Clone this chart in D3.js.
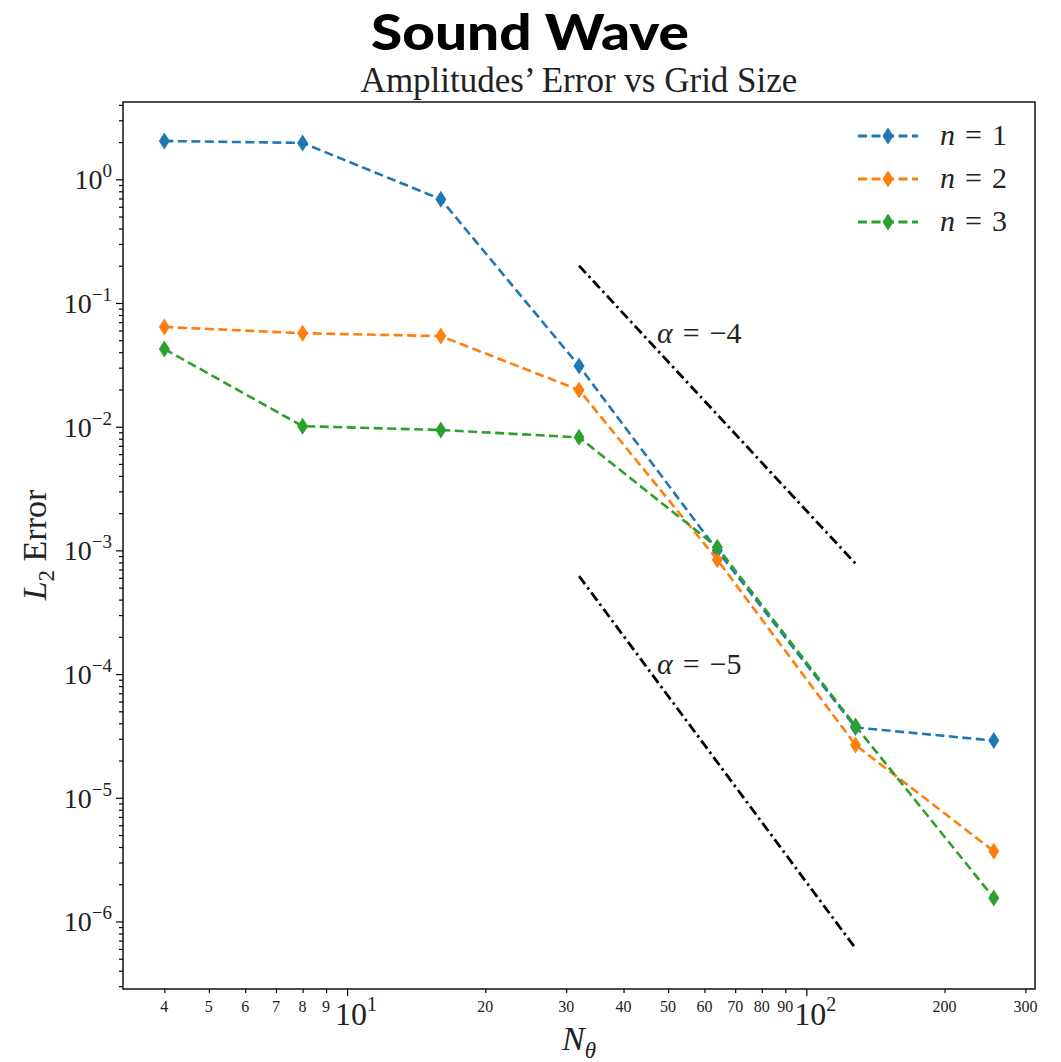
<!DOCTYPE html>
<html><head><meta charset="utf-8">
<script src="https://cdn.jsdelivr.net/npm/d3@7"></script>
<style>body{margin:0;background:#fff}</style>
</head><body>
<svg id="chart" width="1061" height="1062"></svg>
<script>
const gridSizes = [4, 8, 16, 32, 64, 128, 256];
const seriesNames = ["n = 1", "n = 2", "n = 3"];
const errN1 = [2.04, 1.97, 0.69, 0.031, 1.0e-3, 3.7e-5, 2.9e-5];
const errN2 = [0.064, 0.057, 0.054, 0.0198, 8.4e-4, 2.67e-5, 3.7e-6];
const errN3 = [0.0425, 0.0101, 0.0094, 0.0082, 1.06e-3, 3.8e-5, 1.55e-6];
const seriesColors = ["#1f77b4", "#ff7f0e", "#2ca02c"];
const refX = [32, 128];
const refAlpha4 = [0.2, 0.2 / 256];
const refAlpha5 = [6.2e-4, 6.2e-4 / 1024];
const refLabels = ["α = −4", "α = −5"];
const yTickExps = [0, -1, -2, -3, -4, -5, -6];
const xMajor = [10, 100];
const xMinor = [4,5,6,7,8,9,20,30,40,50,60,70,80,90,200,300];

const svg = d3.select("#chart");
const L = 123, R = 1035, T = 102, B = 989;
const x = d3.scaleLog().domain([Math.pow(10,0.512), Math.pow(10,2.498)]).range([L, R]);
const y = d3.scaleLog().domain([Math.pow(10,-6.546), Math.pow(10,0.625)]).range([B, T]);
const serif = "'Liberation Serif', 'DejaVu Serif', serif";

// titles
svg.append("text").attr("x", 530).attr("y", 50).attr("text-anchor","middle")
  .style("font-family","Lato, 'Open Sans', sans-serif").style("font-weight","900").style("font-size","50px")
  .attr("textLength", 318).attr("lengthAdjust", "spacingAndGlyphs")
  .text("Sound Wave");
svg.append("text").attr("x", (L+R)/2).attr("y", 92).attr("text-anchor","middle")
  .style("font-family", serif).style("font-size","35px").attr("fill","#222")
  .text("Amplitudes’ Error vs Grid Size");

// y minor ticks
const yMinorVals = [];
for (let e = -7; e <= 0; e++) for (let m = 2; m <= 9; m++) {
  const v = m * Math.pow(10, e);
  if (v >= y.domain()[0] && v <= y.domain()[1]) yMinorVals.push(v);
}
const yAxisMinor = d3.axisLeft(y).tickValues(yMinorVals).tickSize(4).tickFormat("");
const yAxisMajor = d3.axisLeft(y).tickValues(yTickExps.map(e => Math.pow(10,e))).tickSize(7).tickFormat("");
svg.append("g").attr("transform",`translate(${L},0)`).call(yAxisMinor).call(g=>g.select(".domain").remove()).selectAll("line").attr("stroke","#000").attr("stroke-width",1.2);
svg.append("g").attr("transform",`translate(${L},0)`).call(yAxisMajor).call(g=>g.select(".domain").remove()).selectAll("line").attr("stroke","#000").attr("stroke-width",1.2);

const xAxisMinor = d3.axisBottom(x).tickValues(xMinor).tickSize(4).tickFormat("");
const xAxisMajor = d3.axisBottom(x).tickValues(xMajor).tickSize(7).tickFormat("");
svg.append("g").attr("transform",`translate(0,${B})`).call(xAxisMinor).call(g=>g.select(".domain").remove()).selectAll("line").attr("stroke","#000").attr("stroke-width",1.2);
svg.append("g").attr("transform",`translate(0,${B})`).call(xAxisMajor).call(g=>g.select(".domain").remove()).selectAll("line").attr("stroke","#000").attr("stroke-width",1.2);

// y tick labels
yTickExps.forEach(e => {
  const t = svg.append("text").attr("x", 112).attr("y", y(Math.pow(10,e)) + 10).attr("text-anchor","end")
    .style("font-family", serif).style("font-size","28px").attr("fill","#222");
  t.append("tspan").text("10");
  t.append("tspan").attr("dy", -12).style("font-size","19px").text(e === 0 ? "0" : "−" + (-e));
});
// x major labels
xMajor.forEach(v => {
  const t = svg.append("text").attr("x", x(v) + 30).attr("y", B + 36).attr("text-anchor","end")
    .style("font-family", serif).style("font-size","32px").attr("fill","#222");
  t.append("tspan").text("10");
  t.append("tspan").attr("dy", -14).style("font-size","20px").text(v === 10 ? "1" : "2");
});
// x minor labels
xMinor.forEach(v => {
  svg.append("text").attr("x", x(v)).attr("y", B + 23).attr("text-anchor","middle")
    .style("font-family", serif).style("font-size","16px").attr("fill","#222").text(v);
});

// axis labels
const yl = svg.append("text").attr("transform","translate(46,545) rotate(-90)").attr("text-anchor","middle")
  .style("font-family", serif).style("font-size","34px").attr("fill","#222");
yl.append("tspan").style("font-style","italic").text("L");
yl.append("tspan").attr("dy", 8).style("font-size","23px").text("2");
yl.append("tspan").attr("dy", -8).text(" Error");
const xl = svg.append("text").attr("x", (L+R)/2).attr("y", 1050).attr("text-anchor","middle")
  .style("font-family", serif).style("font-size","34px").attr("fill","#222");
xl.append("tspan").style("font-style","italic").text("N");
xl.append("tspan").attr("dy", 8).style("font-size","23px").style("font-style","italic").text("θ");

// reference lines
const line = d3.line().x(d => x(d[0])).y(d => y(d[1]));
[refAlpha4, refAlpha5].forEach((vals, i) => {
  svg.append("path").datum(refX.map((v,j)=>[v, vals[j]])).attr("d", line)
    .attr("fill","none").attr("stroke","#000").attr("stroke-width",2.8).attr("stroke-dasharray","10,4,2.5,4");
});
[[343, refLabels[0]], [674, refLabels[1]]].forEach(([ly, lab]) => {
  const p = lab.split(" = ");
  svg.append("text").attr("x", 657).attr("y", ly).style("font-family", serif).style("font-size","30px").attr("fill","#222")
    .html(`<tspan font-style="italic">${p[0]}</tspan><tspan dx="10">=</tspan><tspan dx="10">${p[1]}</tspan>`);
});

// data series
const allSeries = [errN1, errN2, errN3];
const diamond = (cx, cy) => `M${cx},${cy-8.5}L${cx+5.5},${cy}L${cx},${cy+8.5}L${cx-5.5},${cy}Z`;
allSeries.forEach((vals, i) => {
  const pts = gridSizes.map((g,j)=>[g, vals[j]]);
  svg.append("path").datum(pts).attr("d", line).attr("fill","none")
    .attr("stroke", seriesColors[i]).attr("stroke-width",2.6).attr("stroke-dasharray","9,4.5");
  svg.append("g").selectAll("path").data(pts).join("path")
    .attr("d", d => diamond(x(d[0]), y(d[1]))).attr("fill", seriesColors[i]);
});

// frame
svg.append("rect").attr("x", L).attr("y", T).attr("width", R-L).attr("height", B-T)
  .attr("fill","none").attr("stroke","#000").attr("stroke-width",1.4);

// legend
seriesNames.forEach((name, i) => {
  const ly = 136 + i * 43;
  svg.append("line").attr("x1", 858).attr("x2", 918).attr("y1", ly).attr("y2", ly)
    .attr("stroke", seriesColors[i]).attr("stroke-width", 3).attr("stroke-dasharray","9,4.5");
  svg.append("path").attr("d", diamond(888, ly)).attr("fill", seriesColors[i]);
  const parts = name.split(" = ");
  svg.append("text").attr("x", 940).attr("y", ly + 9).style("font-family", serif).style("font-size","30px").attr("fill","#222")
    .html(`<tspan font-style="italic">${parts[0]}</tspan><tspan dx="10">=</tspan><tspan dx="10">${parts[1]}</tspan>`);
});
</script>
</body></html>
